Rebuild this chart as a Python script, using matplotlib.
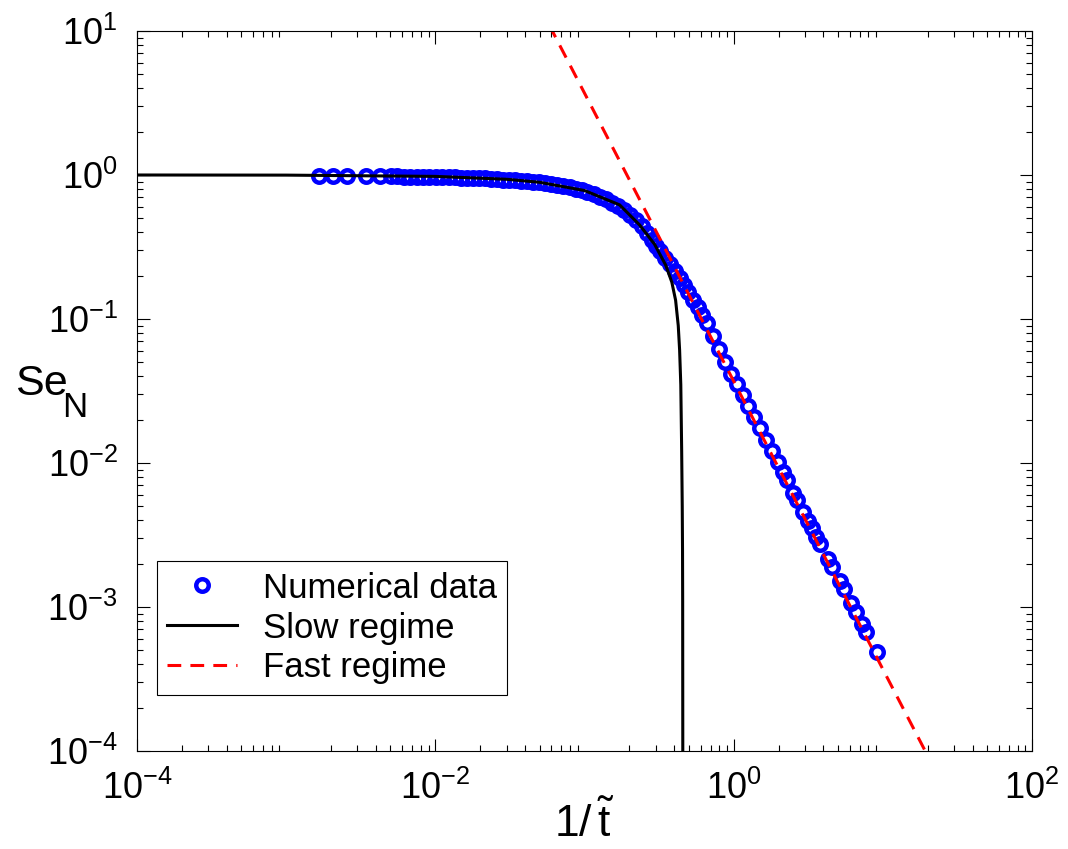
import numpy as np
import matplotlib
matplotlib.use("Agg")
import matplotlib.pyplot as plt
from matplotlib.ticker import LogLocator, NullFormatter, FixedLocator, LogFormatterSciNotation

plt.rcParams['font.family'] = ['Liberation Sans', 'DejaVu Sans']
plt.rcParams['mathtext.fontset'] = 'custom'
plt.rcParams['mathtext.rm'] = 'Liberation Sans'
plt.rcParams['mathtext.it'] = 'Liberation Sans:italic'
plt.rcParams['mathtext.bf'] = 'Liberation Sans:bold'

# datos numericos
x_num = [1.665e-3, 2.067e-3, 2.566e-3, 3.442e-3, 4.274e-3, 5.065e-3, 5.559e-3, 6.19e-3,
         6.80e-3, 7.57e-3, 8.31e-3, 9.11e-3, 0.01016, 0.01114, 0.01242, 0.01362,
         0.01495, 0.01640, 0.01799, 0.01973, 0.02166, 0.02375, 0.02606, 0.02860,
         0.03137, 0.03442, 0.03777, 0.04144, 0.04547, 0.04989, 0.05473, 0.06005,
         0.06589, 0.07229, 0.07932, 0.08702, 0.09548, 0.1047, 0.1149, 0.1261,
         0.1383, 0.1518, 0.1665, 0.1827, 0.2004, 0.2199, 0.2413, 0.2607,
         0.2816, 0.2996, 0.3187, 0.3443, 0.3719, 0.4018, 0.4341, 0.4618,
         0.4912, 0.5307, 0.5733, 0.6098, 0.6588, 0.7228, 0.7931, 0.8702,
         0.9547, 1.047, 1.149, 1.241, 1.362, 1.494, 1.640, 1.799,
         1.974, 2.132, 2.268, 2.489, 2.648, 2.905, 3.138, 3.338,
         3.551, 3.778, 4.274, 4.548, 5.146, 5.474, 6.099, 6.590,
         7.229, 7.689, 9.115]
y_num = [0.984, 0.984, 0.984, 0.984, 0.984, 0.984, 0.984, 0.976,
         0.968, 0.968, 0.968, 0.968, 0.968, 0.968, 0.961, 0.961,
         0.953, 0.953, 0.953, 0.946, 0.946, 0.938, 0.938, 0.930,
         0.923, 0.923, 0.908, 0.908, 0.894, 0.894, 0.880, 0.866,
         0.852, 0.839, 0.825, 0.799, 0.787, 0.762, 0.738, 0.703,
         0.681, 0.639, 0.609, 0.571, 0.527, 0.487, 0.442, 0.396,
         0.354, 0.321, 0.297, 0.265, 0.241, 0.215, 0.193, 0.172,
         0.154, 0.1355, 0.1212, 0.1066, 0.0938, 0.0762, 0.0619, 0.0503,
         0.0415, 0.0354, 0.0297, 0.0249, 0.0209, 0.0175, 0.01444, 0.01212,
         0.01016, 8.66e-3, 7.62e-3, 6.19e-3, 5.53e-3, 4.57e-3, 3.96e-3, 3.54e-3,
         3.06e-3, 2.74e-3, 2.154e-3, 1.896e-3, 1.516e-3, 1.334e-3, 1.066e-3, 9.23e-4,
         7.62e-4, 6.71e-4, 4.87e-4]

# regimen lento
x_slow = [1e-4, 1e-3, 0.01, 0.03, 0.05, 0.1, 0.172, 0.234, 0.295, 0.35, 0.385,
          0.408, 0.425, 0.434, 0.442, 0.448, 0.452, 0.454, 0.455, 0.4555, 0.456]
y_slow = [1.0, 0.998, 0.978, 0.934, 0.89, 0.78, 0.62, 0.45, 0.33, 0.237, 0.18,
          0.135, 0.09, 0.061, 0.035, 0.0123, 5e-3, 2.5e-3, 1.1e-3, 3e-4, 8e-5]

# regimen rapido
x_fast = [0.058, 20.0]
y_fast = [11.0, 9.25e-5]

fig = plt.figure(figsize=(10.68, 8.49), dpi=100)
ax = fig.add_axes([0.1283, 0.1154, 0.8380, 0.8481])

ax.plot(x_num, y_num, 'o', mfc='none', mec=(0, 0, 1), ms=9, mew=3.2, label='Numerical data')
ax.plot(x_slow, y_slow, '-', color='black', lw=2.2, label='Slow regime')
ax.plot(x_fast, y_fast, '--', color=(1, 0, 0), lw=2.2, dashes=(4.5, 3), label='Fast regime')

ax.set_xscale('log')
ax.set_yscale('log')
ax.set_xlim(1e-4, 1e2)
ax.set_ylim(1e-4, 1e1)

ax.xaxis.set_major_locator(FixedLocator([1e-4, 1e-2, 1e0, 1e2]))
ax.xaxis.set_major_formatter(LogFormatterSciNotation())
ax.xaxis.set_minor_locator(LogLocator(base=10, subs=np.arange(2, 10), numticks=20))
ax.yaxis.set_minor_locator(LogLocator(base=10, subs=np.arange(2, 10), numticks=20))
ax.xaxis.set_minor_formatter(NullFormatter())
ax.yaxis.set_minor_formatter(NullFormatter())

ax.tick_params(which='both', direction='in', top=True, right=True, width=0.8, colors='black')
ax.tick_params(which='major', length=9, labelsize=26)
ax.tick_params(which='minor', length=4.5)
ax.tick_params(axis='x', which='major', pad=14)
ax.tick_params(axis='y', which='major', pad=14)
for s in ax.spines.values():
    s.set_linewidth(0.8)

ax.set_xlabel(r'$\mathrm{1/\,\tilde{t}}$', fontsize=32, labelpad=-4)
ax.set_ylabel('')
# etiqueta del eje y: Se con subindice N
fig.text(0.014, 0.548, 'Se', fontsize=31, ha='left', va='center')
fig.text(0.058, 0.52, 'N', fontsize=25, ha='left', va='center')

leg = ax.legend(loc='lower left', bbox_to_anchor=(0.022, 0.078), fontsize=25,
                frameon=True, fancybox=False, edgecolor='black', framealpha=1,
                handlelength=2.0, handletextpad=0.75, labelspacing=0.2, borderpad=0.3,
                borderaxespad=0)
leg.get_frame().set_linewidth(0.8)

fig.savefig('out.png', dpi=100)
